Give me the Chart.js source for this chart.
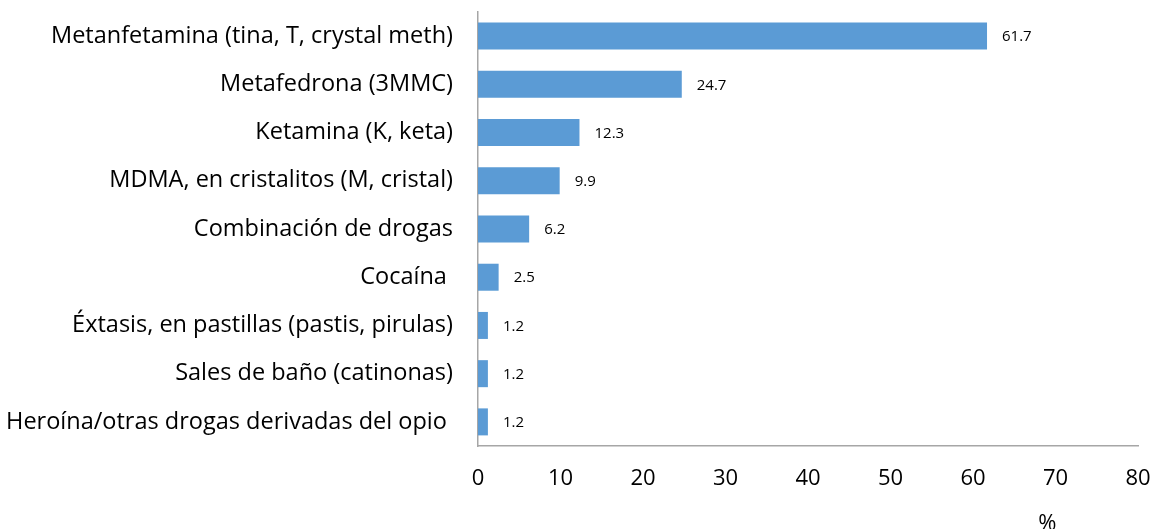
<!DOCTYPE html>
<html>
<head>
<meta charset="utf-8">
<script src="https://cdn.jsdelivr.net/npm/chart.js@4.4.1/dist/chart.umd.min.js"></script>
<style>
  html, body { margin: 0; padding: 0; background: #fff; }
  #wrap { width: 1160px; height: 529px; position: relative; }
</style>
</head>
<body>
<div id="wrap"><canvas id="myChart"></canvas></div>
<script>
// drug categories, top to bottom
const categories = [
  "Metanfetamina (tina, T, crystal meth)",
  "Metafedrona (3MMC)",
  "Ketamina (K, keta)",
  "MDMA, en cristalitos (M, cristal)",
  "Combinación de drogas",
  "Cocaína ",
  "Éxtasis, en pastillas (pastis, pirulas)",
  "Sales de baño (catinonas)",
  "Heroína/otras drogas derivadas del opio "
];
const percentValues = [61.7, 24.7, 12.3, 9.9, 6.2, 2.5, 1.2, 1.2, 1.2];
const xTicks = [0, 10, 20, 30, 40, 50, 60, 70, 80];
const axisTitle = "%";

const fontFamily = "'Open Sans', 'Liberation Sans', sans-serif";

// value labels next to each bar + the % title under the axis
const barLabels = {
  id: "barLabels",
  afterDatasetsDraw(chart) {
    const ctx = chart.ctx;
    const meta = chart.getDatasetMeta(0);
    ctx.save();
    ctx.fillStyle = "#000";
    ctx.font = "15px " + fontFamily;
    ctx.textAlign = "left";
    ctx.textBaseline = "middle";
    meta.data.forEach((bar, i) => {
      ctx.fillText(percentValues[i].toFixed(1), bar.x + 15, bar.y + 1);
    });
    const xs = chart.scales.x;
    ctx.font = "22px " + fontFamily;
    ctx.textAlign = "center";
    ctx.fillText(axisTitle, xs.getPixelForValue(69), 524);
    ctx.restore();
  }
};

var statsChart = document.getElementById("myChart");
var myChart = new Chart(statsChart, {
  type: "bar",
  data: {
    labels: categories,
    datasets: [
      {
        data: percentValues,
        backgroundColor: "#5b9bd5",
        borderWidth: 0,
        barPercentage: 0.56,
        categoryPercentage: 1.0
      }
    ]
  },
  options: {
    indexAxis: "y",
    responsive: true,
    maintainAspectRatio: false,
    animation: false,
    layout: { padding: { left: 0, right: 22, top: 12, bottom: 0 } },
    plugins: {
      legend: { display: false },
      tooltip: { enabled: false }
    },
    scales: {
      x: {
        min: 0,
        max: 80,
        afterBuildTicks: scale => {
          scale.ticks = xTicks.map(v => ({ value: v }));
        },
        afterFit: scale => {
          scale.height = 83;
          scale.paddingLeft = 0;
          scale.paddingRight = 0;
        },
        grid: { display: false, drawTicks: false },
        border: { display: true, color: "#a6a6a6", width: 1.5 },
        ticks: {
          padding: 20,
          color: "#000",
          font: { family: fontFamily, size: 22 }
        }
      },
      y: {
        afterFit: scale => {
          scale.width = 478;
          scale.paddingTop = 0;
          scale.paddingBottom = 0;
        },
        grid: { display: false, drawTicks: false },
        border: { display: true, color: "#a6a6a6", width: 1.5 },
        ticks: {
          padding: 25,
          color: "#000",
          font: { family: fontFamily, size: 23.5 }
        }
      }
    }
  },
  plugins: [barLabels]
});
</script>
</body>
</html>
